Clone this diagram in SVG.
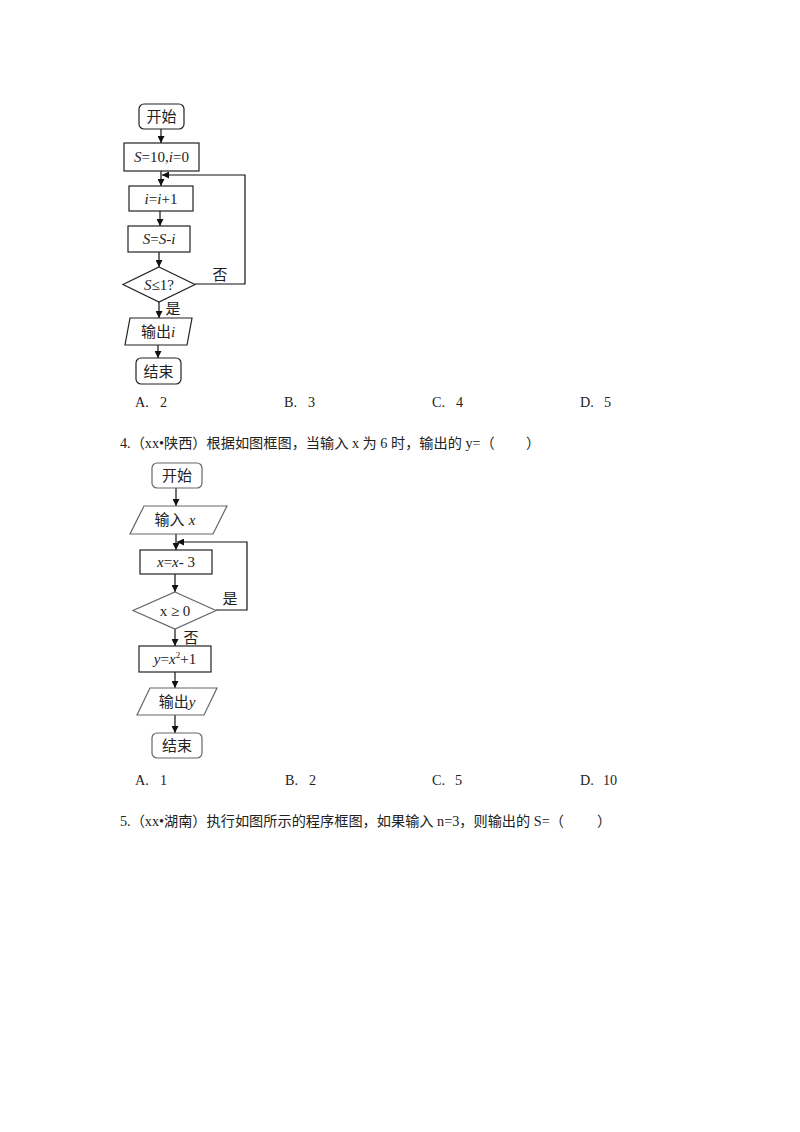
<svg xmlns="http://www.w3.org/2000/svg" width="800" height="1132" viewBox="0 0 800 1132">
<style>
.s{fill:none;stroke:#222;stroke-width:1.2}
.g{fill:none;stroke:#666;stroke-width:1.2}
.ln{fill:none;stroke:#111;stroke-width:1.2}
.t{font-family:"Liberation Sans","Noto Sans CJK SC",sans-serif;font-size:15px;fill:#222;text-anchor:middle}
.m{font-family:"Liberation Serif","Noto Sans CJK SC",serif;font-size:15px;fill:#222;text-anchor:middle}
.q{font-family:"Liberation Serif","Noto Sans CJK SC",serif;font-size:14.2px;fill:#222}
.i{font-style:italic}
</style>
<defs>
<marker id="ah" viewBox="0 0 10 10" refX="10" refY="5" markerWidth="7" markerHeight="7" markerUnits="userSpaceOnUse" orient="auto">
<path d="M0,0 L10,5 L0,10 z" fill="#111"/>
</marker>
</defs>
<rect width="800" height="1132" fill="#fff"/>

<!-- Diagram 1 -->
<g id="d1-connectors">
<line class="ln" x1="161" y1="129" x2="161" y2="143" marker-end="url(#ah)"/>
<line class="ln" x1="161" y1="171" x2="161" y2="186" marker-end="url(#ah)"/>
<polyline class="ln" points="195,284 245,284 245,175 162,175" marker-end="url(#ah)"/>
<line class="ln" x1="160" y1="211" x2="160" y2="226" marker-end="url(#ah)"/>
<line class="ln" x1="159" y1="252" x2="159" y2="267" marker-end="url(#ah)"/>
<line class="ln" x1="159" y1="302" x2="159" y2="318" marker-end="url(#ah)"/>
<line class="ln" x1="158" y1="345" x2="158" y2="358" marker-end="url(#ah)"/>
<text class="t" x="220" y="280">否</text>
<text class="t" x="173" y="314">是</text>
</g>
<g id="d1-start"><rect class="s" x="139" y="104" width="45" height="25" rx="5"/><text class="t" x="161.5" y="122">开始</text></g>
<g id="d1-init"><rect class="s" x="124" y="143" width="75" height="28"/><text class="m" x="161.5" y="162"><tspan class="i">S</tspan>=10,<tspan class="i">i</tspan>=0</text></g>
<g id="d1-inc"><rect class="s" x="129" y="186" width="64" height="25"/><text class="m" x="161" y="204"><tspan class="i">i</tspan>=<tspan class="i">i</tspan>+1</text></g>
<g id="d1-sub"><rect class="s" x="128" y="226" width="62" height="26"/><text class="m" x="159" y="244"><tspan class="i">S</tspan>=<tspan class="i">S</tspan>-<tspan class="i">i</tspan></text></g>
<g id="d1-cond"><polygon class="s" points="159,267 195,284.5 159,302 123,284.5"/><text class="m" x="159" y="290"><tspan class="i">S</tspan>≤1?</text></g>
<g id="d1-out"><polygon class="s" points="130,318 192,318 187,345 125,345"/><text class="t" x="158" y="337">输出<tspan class="i" font-family="Liberation Serif">i</tspan></text></g>
<g id="d1-end"><rect class="s" x="136" y="358" width="45" height="26" rx="5"/><text class="t" x="158.5" y="377">结束</text></g>

<g id="ans1">
<text class="q" x="135" y="407">A. <tspan x="160">2</tspan></text>
<text class="q" x="284" y="407">B. <tspan x="308">3</tspan></text>
<text class="q" x="432" y="407">C. <tspan x="456">4</tspan></text>
<text class="q" x="580" y="407">D. <tspan x="604">5</tspan></text>
</g>
<text id="q4" class="q" x="120" y="448">4.（xx•陕西）根据如图框图，当输入 x 为 6 时，输出的 y=（<tspan x="526">）</tspan></text>

<!-- Diagram 2 -->
<g id="d2-connectors">
<line class="ln" x1="176" y1="488" x2="176" y2="506" marker-end="url(#ah)"/>
<line class="ln" x1="176" y1="534" x2="176" y2="550" marker-end="url(#ah)"/>
<polyline class="ln" points="216,610 247,610 247,542 177,542" marker-end="url(#ah)"/>
<line class="ln" x1="175" y1="574" x2="175" y2="592" marker-end="url(#ah)"/>
<line class="ln" x1="175" y1="629" x2="175" y2="646" marker-end="url(#ah)"/>
<line class="ln" x1="175" y1="672" x2="175" y2="688" marker-end="url(#ah)"/>
<line class="ln" x1="175" y1="715" x2="175" y2="733" marker-end="url(#ah)"/>
<text class="t" x="230" y="604">是</text>
<text class="t" x="191" y="643">否</text>
</g>
<g id="d2-start"><rect class="g" x="152" y="463" width="50" height="25" rx="5"/><text class="t" x="177" y="481">开始</text></g>
<g id="d2-in"><polygon class="g" points="144,506 227,506 213,534 130,534"/><text class="t" x="175" y="525">输入 <tspan class="i" font-family="Liberation Serif">x</tspan></text></g>
<g id="d2-sub"><rect class="s" x="140" y="550" width="72" height="24"/><text class="m" x="176" y="567"><tspan class="i">x</tspan>=<tspan class="i">x</tspan>- 3</text></g>
<g id="d2-cond"><polygon class="g" points="175,592 216,610.5 175,629 133,610.5"/><text class="m" x="175" y="616">x ≥ 0</text></g>
<g id="d2-calc"><rect class="s" x="139" y="646" width="72" height="26"/><text class="m" x="175" y="664"><tspan class="i">y</tspan>=<tspan class="i">x</tspan><tspan font-size="9" dy="-6">2</tspan><tspan dy="6">+1</tspan></text></g>
<g id="d2-out"><polygon class="g" points="150,688 217,688 204,715 137,715"/><text class="t" x="177" y="707">输出<tspan class="i" font-family="Liberation Serif">y</tspan></text></g>
<g id="d2-end"><rect class="g" x="152" y="733" width="50" height="25" rx="5"/><text class="t" x="177" y="751">结束</text></g>

<g id="ans2">
<text class="q" x="135" y="785">A. <tspan x="160">1</tspan></text>
<text class="q" x="285" y="785">B. <tspan x="309">2</tspan></text>
<text class="q" x="432" y="785">C. <tspan x="455">5</tspan></text>
<text class="q" x="580" y="785">D. <tspan x="603">10</tspan></text>
</g>
<text id="q5" class="q" x="120" y="826">5.（xx•湖南）执行如图所示的程序框图，如果输入 n=3，则输出的 S=（<tspan x="597">）</tspan></text>
</svg>
